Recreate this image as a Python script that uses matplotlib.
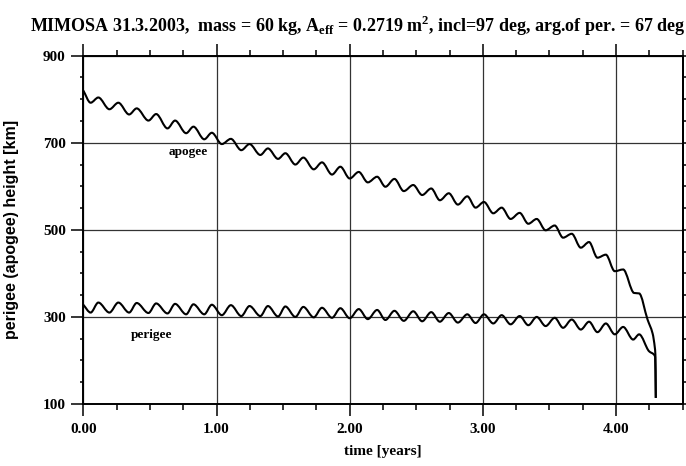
import numpy as np
import matplotlib
matplotlib.use("Agg")
import matplotlib.pyplot as plt
from matplotlib.path import Path
from matplotlib.patches import PathPatch
from matplotlib.ticker import MultipleLocator, FixedLocator

plt.rcParams['mathtext.fontset'] = 'custom'
plt.rcParams['mathtext.rm'] = 'Liberation Serif:bold'
plt.rcParams['mathtext.bf'] = 'Liberation Serif:bold'

# turning points of the apogee curve (years, km)
t_apo = [0.0, 0.055, 0.113, 0.196, 0.263, 0.344, 0.401, 0.489, 0.547, 0.632,
         0.689, 0.772, 0.827, 0.908, 0.965, 1.040, 1.108, 1.186, 1.248, 1.329,
         1.386, 1.462, 1.517, 1.592, 1.652, 1.730, 1.792, 1.867, 1.930, 2.000,
         2.068, 2.136, 2.206, 2.268, 2.336, 2.406, 2.477, 2.544, 2.612, 2.677,
         2.744, 2.812, 2.883, 2.945, 3.008, 3.078, 3.141, 3.208, 3.276, 3.341,
         3.404, 3.471, 3.539, 3.602, 3.667, 3.735, 3.797, 3.860, 3.923, 3.990,
         4.053, 4.135, 4.173, 4.236, 4.274, 4.291, 4.295, 4.298]
h_apo = [820, 792, 804, 777, 792, 765, 779, 751, 766, 733,
         751, 722, 737, 708, 723, 697, 709, 683, 697, 672,
         687, 663, 676, 650, 666, 639, 655, 627, 645, 618,
         633, 609, 622, 599, 617, 589, 603, 580, 595, 568,
         584, 558, 577, 551, 564, 538, 551, 525, 539, 514,
         525, 499, 510, 482, 491, 459, 472, 436, 443, 405,
         409, 355, 354, 294, 262, 229, 213, 114]

# turning points of the perigee curve
t_peri = [0.0, 0.055, 0.113, 0.196, 0.263, 0.344, 0.401, 0.489, 0.547, 0.632,
          0.689, 0.772, 0.827, 0.908, 0.965, 1.040, 1.108, 1.186, 1.248, 1.329,
          1.386, 1.462, 1.517, 1.592, 1.652, 1.730, 1.792, 1.867, 1.930, 2.000,
          2.068, 2.136, 2.206, 2.268, 2.336, 2.406, 2.477, 2.544, 2.612, 2.677,
          2.744, 2.812, 2.883, 2.945, 3.008, 3.078, 3.141, 3.208, 3.276, 3.341,
          3.404, 3.471, 3.539, 3.602, 3.667, 3.735, 3.797, 3.860, 3.923, 3.990,
          4.053, 4.128, 4.173, 4.248, 4.283, 4.293, 4.298]
h_peri = [328, 310, 333, 310, 333, 310, 332, 309, 331, 308,
          330, 306, 329, 306, 328, 304, 327, 302, 325, 302,
          325, 301, 324, 300, 323, 299, 321, 298, 320, 297,
          318, 295, 316, 293, 314, 291, 313, 290, 311, 289,
          309, 287, 306, 286, 306, 285, 304, 283, 302, 281,
          300, 279, 298, 275, 294, 271, 289, 265, 285, 260,
          277, 248, 260, 221, 214, 208, 114]

x_major = [0, 1, 2, 3, 4]
x_labels = ['0.00', '1.00', '2.00', '3.00', '4.00']
y_major = [100, 300, 500, 700, 900]

title = (r'MIMOSA 31.3.2003,  mass = 60 kg, A$_{\mathrm{eff}}$ = 0.2719 m$^{\mathrm{2}}$'
         ', incl=97 deg, arg.of per. = 67 deg')


def smooth_path(x, y):
    # cubic Hermite segments (flat at turning points) drawn as Bezier curves
    x = np.asarray(x, float)
    y = np.asarray(y, float)
    d = np.diff(y) / np.diff(x)
    m = np.zeros_like(x)
    m[0], m[-1] = d[0], d[-1]
    for i in range(1, len(x) - 1):
        if d[i - 1] * d[i] > 0:
            m[i] = 2.0 / (1.0 / d[i - 1] + 1.0 / d[i])
    verts = [(x[0], y[0])]
    codes = [Path.MOVETO]
    for i in range(len(x) - 1):
        h = x[i + 1] - x[i]
        verts += [(x[i] + h / 3, y[i] + m[i] * h / 3),
                  (x[i + 1] - h / 3, y[i + 1] - m[i + 1] * h / 3),
                  (x[i + 1], y[i + 1])]
        codes += [Path.CURVE4] * 3
    return Path(verts, codes)


fig = plt.figure(figsize=(6.86, 4.66), dpi=100)
ax = fig.add_axes([83.3 / 686, 1 - 404 / 466, 599.4 / 686, 348.3 / 466])
ax.set_xlim(0, 4.5)
ax.set_ylim(100, 900)

ax.grid(which='major', color='#333333', linewidth=0.9)
ax.set_axisbelow(True)

for tt, hh in [(t_apo, h_apo), (t_peri, h_peri)]:
    ax.add_patch(PathPatch(smooth_path(tt, hh), facecolor='none',
                           edgecolor='black', linewidth=1.5, zorder=3))

tfont = dict(family='Liberation Serif', fontweight='bold')
ax.text(0.787, 678, 'apogee', ha='center', va='center', fontsize=9.5, **tfont)
ax.text(0.514, 259, 'perigee', ha='center', va='center', fontsize=9.5, **tfont)

ax.xaxis.set_major_locator(FixedLocator(x_major))
ax.xaxis.set_minor_locator(MultipleLocator(0.25))
ax.set_xticklabels(x_labels)
ax.yaxis.set_major_locator(FixedLocator(y_major))
ax.yaxis.set_minor_locator(MultipleLocator(50))
ax.set_yticklabels([str(v) for v in y_major])

ax.tick_params(axis='x', which='major', direction='out', length=8.6, width=1.1,
               top=True, bottom=True, pad=5)
ax.tick_params(axis='x', which='minor', direction='out', length=4.3, width=1.1,
               top=True, bottom=True)
ax.tick_params(axis='y', which='major', direction='out', length=8.6, width=1.1,
               left=True, right=False, pad=4)
ax.tick_params(axis='y', which='minor', direction='out', length=2.5, width=1.1,
               left=True, right=False)
for lab in ax.get_xticklabels() + ax.get_yticklabels():
    lab.set_family('Liberation Serif')
    lab.set_fontweight('bold')
    lab.set_fontsize(11)

sec = ax.secondary_yaxis('right')
sec.yaxis.set_major_locator(FixedLocator(y_major))
sec.yaxis.set_minor_locator(MultipleLocator(50))
sec.tick_params(which='both', direction='out', length=3, width=1.1, labelright=False)
sec.spines['right'].set_linewidth(1.4)

for s in ax.spines.values():
    s.set_linewidth(1.4)

fig.text(0.522, 1 - 26 / 466, title, ha='center', va='center', fontsize=13, **tfont)
fig.text(383 / 686, 1 - 452 / 466, 'time [years]', ha='center', va='center',
         fontsize=11, **tfont)
fig.text(12 / 686, 1 - 229 / 466, 'perigee (apogee) height [km]', rotation=90,
         ha='center', va='center', fontsize=11.5, family='Liberation Sans',
         fontweight='bold')

fig.savefig('out.png', dpi=100)
